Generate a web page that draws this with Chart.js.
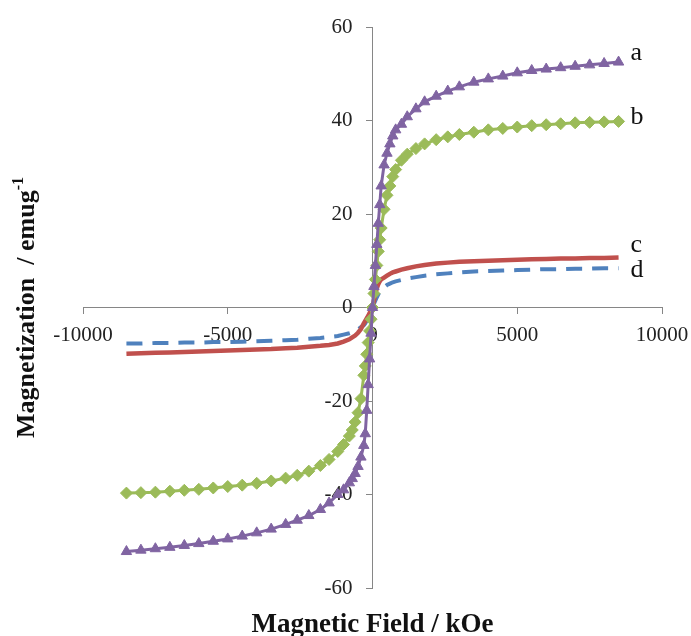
<!DOCTYPE html>
<html>
<head>
<meta charset="utf-8">
<script src="https://cdn.jsdelivr.net/npm/chart.js@4.4.1/dist/chart.umd.min.js"></script>
<style>
  body { margin: 0; background: #fff; }
  #wrap { width: 691px; height: 636px; }
</style>
</head>
<body>
<div id="wrap"><canvas id="myChart"></canvas></div>
<script>
// applied field (Oe), same for every sample
var field = [-8500, -8000, -7500, -7000, -6500, -6000, -5500, -5000, -4500, -4000, -3500, -3000,
  -2600, -2200, -1800, -1500, -1200, -1000,
  -800, -700, -600, -500, -400, -300, -250, -200, -150, -100, -50,
  0,
  50, 100, 150, 200, 250, 300, 400, 500, 600, 700, 800,
  1000, 1200, 1500, 1800, 2200, 2600,
  3000, 3500, 4000, 4500, 5000, 5500, 6000, 6500, 7000, 7500, 8000, 8500];

var magA = [-52.2, -51.9, -51.6, -51.3, -50.9, -50.5, -50.0, -49.5, -48.9, -48.2, -47.4, -46.4,
  -45.5, -44.5, -43.2, -41.8, -40.0, -39.0,
  -37.5, -36.6, -35.5, -34.0, -32.0, -29.5, -27.0, -22.0, -16.5, -11.0, -5.5,
  0,
  4.5, 9.0, 13.5, 18.0, 22.0, 26.0, 30.5, 33.0, 35.0, 36.7, 38.0,
  39.2, 40.8, 42.5, 44.0, 45.2, 46.3,
  47.2, 48.2, 48.9, 49.5, 50.2, 50.7, 51.0, 51.3, 51.6, 51.9, 52.2, 52.5];
var magB = [-39.7, -39.6, -39.5, -39.3, -39.1, -38.9, -38.6, -38.3, -38.0, -37.6, -37.1, -36.5,
  -35.9, -35.0, -33.8, -32.5, -30.8, -29.3,
  -27.5, -26.2, -24.5, -22.5, -19.5, -14.5, -12.5, -10.0, -7.5, -5.0, -2.5,
  0,
  3.0, 6.0, 9.0, 12.0, 14.5, 17.0, 21.0, 24.0, 26.0, 28.0, 29.5,
  31.5, 32.8, 34.0, 35.0, 35.9, 36.5,
  37.0, 37.5, 38.0, 38.3, 38.6, 38.9, 39.1, 39.3, 39.5, 39.6, 39.7, 39.8];
var magC = [-9.9, -9.8, -9.7, -9.6, -9.5, -9.4, -9.3, -9.2, -9.1, -9.0, -8.9, -8.7,
  -8.6, -8.4, -8.2, -8.0, -7.7, -7.3,
  -6.8, -6.4, -6.0, -5.4, -4.6, -3.4, -2.9, -2.3, -1.8, -1.2, -0.6,
  0,
  1.5, 3.0, 4.1, 5.0, 5.6, 6.0, 6.4, 6.8, 7.2, 7.5, 7.7,
  8.1, 8.4, 8.8, 9.1, 9.4, 9.6,
  9.8, 9.9, 10.0, 10.1, 10.2, 10.3, 10.4, 10.5, 10.5, 10.6, 10.6, 10.7];
var magD = [-7.7, -7.7, -7.6, -7.6, -7.5, -7.5, -7.4, -7.4, -7.3, -7.2, -7.1, -7.0,
  -6.9, -6.7, -6.5, -6.3, -6.1, -5.8,
  -5.5, -5.3, -5.0, -4.7, -4.2, -3.8, -3.4, -2.8, -2.2, -1.5, -0.8,
  0,
  0.8, 1.5, 2.2, 2.8, 3.4, 3.8, 4.3, 4.8, 5.1, 5.4, 5.6,
  5.9, 6.2, 6.5, 6.8, 7.1, 7.3,
  7.5, 7.7, 7.8, 7.9, 8.0, 8.1, 8.2, 8.2, 8.3, 8.3, 8.4, 8.4];

var seriesNames = ["a", "b", "c", "d"];
var xTicks = [-10000, -5000, 0, 5000, 10000];
var yTicks = [-60, -40, -20, 0, 20, 40, 60];
var xTitle = "Magnetic Field / kOe";
var yTitle = "Magnetization  / emug";
var yTitleSup = "-1";

function toPoints(ys) {
  var pts = [];
  for (var i = 0; i < field.length; i++) {
    pts.push({ x: field[i], y: ys[i] });
  }
  return pts;
}

var serif = '"Liberation Serif", "Times New Roman", serif';

// titles and the a/b/c/d tags next to the curve ends
var textPlugin = {
  id: 'textPlugin',
  beforeDraw: function (chart) {
    // centred y axis puts its labels right on the axis line, move them left
    var items = chart.scales.y.getLabelItems();
    items.forEach(function (it) {
      if (!it.moved) {
        it.options.translation[0] -= 20;
        it.moved = true;
      }
    });
  },
  afterDraw: function (chart) {
    var ctx = chart.ctx;
    var xs = chart.scales.x, ys = chart.scales.y;
    ctx.save();
    ctx.fillStyle = '#111';

    ctx.font = 'bold 27px ' + serif;
    ctx.textAlign = 'center';
    ctx.textBaseline = 'alphabetic';
    ctx.fillText(xTitle, xs.getPixelForValue(0), chart.height - 4);

    // vertical title with superscript
    ctx.translate(34, ys.getPixelForValue(0));
    ctx.rotate(-Math.PI / 2);
    ctx.font = 'bold 26px ' + serif;
    var w1 = ctx.measureText(yTitle).width;
    ctx.font = 'bold 16px ' + serif;
    var w2 = ctx.measureText(yTitleSup).width;
    var start = -(w1 + w2) / 2;
    ctx.textAlign = 'left';
    ctx.fillText(yTitleSup, start + w1, -11);
    ctx.font = 'bold 26px ' + serif;
    ctx.fillText(yTitle, start, 0);
    ctx.restore();

    ctx.save();
    ctx.fillStyle = '#111';
    ctx.font = '26px ' + serif;
    ctx.textAlign = 'left';
    ctx.textBaseline = 'middle';
    var nudge = [-9, -4, -12, 2];
    for (var i = 0; i < seriesNames.length; i++) {
      var pts = chart.getDatasetMeta(i).data;
      var last = pts[pts.length - 1];
      ctx.fillText(seriesNames[i], last.x + 12, last.y + nudge[i]);
    }
    ctx.restore();
  }
};

var ctx = document.getElementById('myChart').getContext('2d');

var myChart = new Chart(ctx, {
  type: 'scatter',
  data: {
    datasets: [{
      label: seriesNames[0],
      data: toPoints(magA),
      showLine: true,
      borderColor: '#8064a2',
      backgroundColor: '#8064a2',
      borderWidth: 3,
      pointStyle: 'triangle',
      pointRadius: 6,
      pointBorderWidth: 1
    }, {
      label: seriesNames[1],
      data: toPoints(magB),
      showLine: true,
      borderColor: '#9bbb59',
      backgroundColor: '#9bbb59',
      borderWidth: 3,
      pointStyle: 'rectRot',
      pointRadius: 6,
      pointBorderWidth: 1
    }, {
      label: seriesNames[2],
      data: toPoints(magC),
      showLine: true,
      borderColor: '#c0504d',
      backgroundColor: '#c0504d',
      borderWidth: 4.5,
      pointRadius: 0
    }, {
      label: seriesNames[3],
      data: toPoints(magD),
      showLine: true,
      borderColor: '#4f81bd',
      backgroundColor: '#4f81bd',
      borderWidth: 4,
      borderDash: [16, 10],
      pointRadius: 0
    }]
  },
  options: {
    responsive: true,
    maintainAspectRatio: false,
    animation: false,
    layout: { padding: { left: 83, right: 29, top: 27, bottom: 48 } },
    plugins: {
      legend: { display: false },
      tooltip: { enabled: false }
    },
    scales: {
      x: {
        type: 'linear',
        position: { y: 0 },
        min: -10000,
        max: 10000,
        afterFit: function (scale) {
          scale.height = 0;
          scale.paddingLeft = 0;
          scale.paddingRight = 0;
        },
        afterBuildTicks: function (scale) {
          scale.ticks = xTicks.map(function (v) { return { value: v }; });
        },
        grid: { drawOnChartArea: false, drawTicks: true, tickLength: 6, color: '#868686' },
        border: { display: true, color: '#868686', width: 1 },
        ticks: {
          color: '#222',
          padding: 9,
          maxRotation: 0,
          autoSkip: false,
          font: { family: serif, size: 21 },
          callback: function (v) { return String(v); }
        }
      },
      y: {
        type: 'linear',
        position: { x: 0 },
        min: -60,
        max: 60,
        afterFit: function (scale) {
          scale.width = 0;
          scale.paddingTop = 0;
          scale.paddingBottom = 0;
        },
        afterBuildTicks: function (scale) {
          scale.ticks = yTicks.map(function (v) { return { value: v }; });
        },
        grid: { drawOnChartArea: false, drawTicks: true, tickLength: 6, color: '#868686' },
        border: { display: true, color: '#868686', width: 1 },
        ticks: {
          color: '#222',
          padding: 12,
          autoSkip: false,
          font: { family: serif, size: 21 },
          callback: function (v) { return String(v); }
        }
      }
    }
  },
  plugins: [textPlugin]
});
</script>
</body>
</html>
